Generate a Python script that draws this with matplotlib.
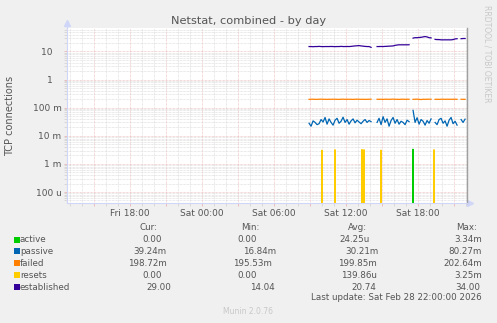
import numpy as np
import matplotlib
matplotlib.use('Agg')
import matplotlib.pyplot as plt
from matplotlib.patches import Rectangle
from matplotlib.ticker import FixedLocator, FixedFormatter

# x values are hours relative to Sat 00:00, samples every 10 minutes from ~08:55
start_hour = 8.92
nan = np.nan

passive_m = [28, 22, 34, 30, 25, 27, 38, 31, 45, 26,
             40, 30, 24, 36, 42, 28, 33, 46, 30, 38,
             26, 34, 40, 29, 36, 31, 27, 33, 38, 30,
             35, 32, nan, nan, 30, 42, 25, 48, 30, 40,
             22, 35, 45, 28, 38, 26, 33, 30, 25, 36,
             32, nan, 80.27, 30, 44, 26, 38, 33, 24, 35,
             28, 40, nan, 30, 25, 38, 42, 28, 34, 22,
             36, 45, 27, 33, 24, nan, 38, 30, 39.24]

established = [15, 15, 14.8, 15, 15, 15.2, 15, 14.9, 15, 15,
               15, 15.1, 15, 14.9, 15, 15, 15.2, 15, 15, 15.1,
               15, 15.2, 15.5, 15.8, 16, 16.2, 15.8, 15.5, 15.2, 15,
               15, 14.04, nan, nan, 15, 15, 15.1, 15, 15.2, 15.3,
               15.5, 15.6, 15.8, 16.5, 17, 17.3, 17.3, 17.3, 17.3, 17.3,
               17.4, nan, 30, 31, 31, 31.5, 32, 33, 34, 33,
               31, 30.5, nan, 27, 26.5, 26.5, 26, 26, 26, 26,
               26, 26, 26.5, 28, 28.5, nan, 28.5, 29, 29]

failed = [0.199, 0.200, 0.201, 0.199, 0.198, 0.200, 0.202, 0.199, 0.200, 0.198,
          0.200, 0.199, 0.201, 0.200, 0.199, 0.198, 0.200, 0.201, 0.199, 0.200,
          0.200, 0.199, 0.198, 0.200, 0.201, 0.200, 0.199, 0.200, 0.198, 0.199,
          0.200, 0.201, nan, nan, 0.200, 0.199, 0.200, 0.198, 0.201, 0.200,
          0.199, 0.200, 0.2026, 0.199, 0.200, 0.198, 0.200, 0.201, 0.199, 0.200,
          0.200, nan, 0.199, 0.200, 0.201, 0.199, 0.1955, 0.200, 0.199, 0.200,
          0.201, 0.200, nan, 0.199, 0.200, 0.198, 0.200, 0.201, 0.199, 0.200,
          0.200, 0.199, 0.200, 0.201, 0.199, nan, 0.200, 0.199, 0.1987]

reset_hours = [10.0, 11.08, 13.33, 13.5, 14.92, 19.33]
reset_vals = [3.1e-3, 3.2e-3, 3.25e-3, 3.2e-3, 3.1e-3, 3.2e-3]
active_hours = [17.58]
active_vals = [3.34e-3]

tick_hours = [-6, 0, 6, 12, 18]
tick_names = ['Fri 18:00', 'Sat 00:00', 'Sat 06:00', 'Sat 12:00', 'Sat 18:00']
y_ticks = [1e-4, 1e-3, 1e-2, 1e-1, 1, 10]
y_names = ['100 u', '1 m', '10 m', '100 m', '1   ', '10   ']

legend_names = ['active', 'passive', 'failed', 'resets', 'established']
legend_colors = ['#00CC00', '#0066B3', '#FF8000', '#FFCC00', '#330099']
cur_vals = ['0.00', '39.24m', '198.72m', '0.00', '29.00']
min_vals = ['0.00', '16.84m', '195.53m', '0.00', '14.04']
avg_vals = ['24.25u', '30.21m', '199.85m', '139.86u', '20.74']
max_vals = ['3.34m', '80.27m', '202.64m', '3.25m', '34.00']

W, H = 497, 323
txt = '#555555'

fig = plt.figure(figsize=(W / 100, H / 100), dpi=100, facecolor='#F0F0F0')
ax = fig.add_axes([67 / W, 1 - 203 / H, 400 / W, 175 / H])
ax.set_facecolor('white')
ax.set_yscale('log', nonpositive='clip')
ax.set_xlim(-11.25, 22.08)
ax.set_ylim(10 ** -4.39, 10 ** 1.836)

t = start_hour + np.arange(len(passive_m)) / 6
ax.plot(t, np.array(passive_m) / 1000, color='#0066B3', lw=0.9)
ax.plot(t, failed, color='#FF8000', lw=0.9)
ax.plot(t, established, color='#330099', lw=0.9)
for h, v in zip(reset_hours, reset_vals):
    ax.plot([h - 0.09, h, h + 0.09], [0, v, 0], color='#FFCC00', lw=0.9)
for h, v in zip(active_hours, active_vals):
    ax.plot([h - 0.09, h, h + 0.09], [0, v, 0], color='#00CC00', lw=0.9)

# grid / ticks
ax.xaxis.set_major_locator(FixedLocator(np.arange(-9, 22, 3)))
ax.xaxis.set_minor_locator(FixedLocator(np.arange(-11, 23, 1)))
ax.set_xticks(np.arange(-9, 22, 3))
ax.set_xticklabels([tick_names[tick_hours.index(h)] if h in tick_hours else '' for h in np.arange(-9, 22, 3)])
ax.yaxis.set_major_locator(FixedLocator(y_ticks))
ax.yaxis.set_major_formatter(FixedFormatter(y_names))
minor_y = [m * 10.0 ** e for e in range(-5, 2) for m in range(2, 10)]
ax.yaxis.set_minor_locator(FixedLocator(minor_y))
ax.yaxis.set_minor_formatter(FixedFormatter([''] * len(minor_y)))
ax.grid(which='minor', color='#d4d4d4', linestyle=(0, (1, 1)), linewidth=0.5)
ax.grid(which='major', color='#ebb4b4', linestyle=(0, (1, 1)), linewidth=0.5)
ax.set_axisbelow(True)
ax.tick_params(which='both', direction='out', length=2, width=0.6, color='#d4d4d4',
               labelcolor=txt, labelsize=6.5, pad=2)
ax.tick_params(which='major', color='#ebb4b4')

ax.spines['top'].set_visible(False)
ax.spines['left'].set_color('#CFD6F8')
ax.spines['bottom'].set_color('#CFD6F8')
ax.spines['right'].set_color('#a0a0a0')
ax.spines['right'].set_linewidth(1.0)
ax.plot([0, 0], [1, 1.03], transform=ax.transAxes, color='#CFD6F8', lw=0.8, clip_on=False)
ax.plot([0], [1.03], marker='^', ms=4, color='#CFD6F8', transform=ax.transAxes, clip_on=False)
ax.plot([1, 1.008], [0, 0], transform=ax.transAxes, color='#CFD6F8', lw=0.8, clip_on=False)
ax.plot([1.008], [0], marker='>', ms=4, color='#CFD6F8', transform=ax.transAxes, clip_on=False)

fig.text(0.5, 1 - 21 / H, 'Netstat, combined - by day', ha='center', va='center',
         fontsize=8.2, color=txt)
fig.text(10 / W, 1 - 115.5 / H, 'TCP connections', rotation=90, ha='center', va='center',
         fontsize=7, color=txt)
fig.text(487 / W, 1 - 5 / H, 'RRDTOOL / TOBI OETIKER', rotation=270, ha='center', va='top',
         fontsize=5.5, color='#c8c8c8')

# legend table
fs = 6.3
for label, xr in zip(['Cur:', 'Min:', 'Avg:', 'Max:'], [157, 260, 367, 477]):
    fig.text(xr / W, 1 - 227 / H, label, ha='right', va='center', fontsize=fs, color=txt)
row_y = [239.5, 251, 263, 275, 287]
cur_x = [161.7, 166, 166.7, 162, 171.7]
min_x = [257, 276, 272, 257, 275]
avg_x = [369.7, 379, 377, 377, 376.7]
max_x = [482, 482, 482, 482, 480]
for i, name in enumerate(legend_names):
    y = row_y[i]
    fig.add_artist(Rectangle((14 / W, 1 - (y + 3) / H), 6 / W, 6 / H,
                             transform=fig.transFigure, color=legend_colors[i], lw=0))
    fig.text(20 / W, 1 - y / H, name, ha='left', va='center', fontsize=fs, color=txt)
    for vals, xs in [(cur_vals, cur_x), (min_vals, min_x), (avg_vals, avg_x), (max_vals, max_x)]:
        fig.text(xs[i] / W, 1 - y / H, vals[i], ha='right', va='center', fontsize=fs, color=txt)
fig.text(482 / W, 1 - 298 / H, 'Last update: Sat Feb 28 22:00:00 2026', ha='right', va='center',
         fontsize=fs, color=txt)
fig.text(248 / W, 1 - 311 / H, 'Munin 2.0.76', ha='center', va='center', fontsize=5.5,
         color='#c8c8c8')

fig.savefig('out.png', dpi=100, facecolor=fig.get_facecolor())
